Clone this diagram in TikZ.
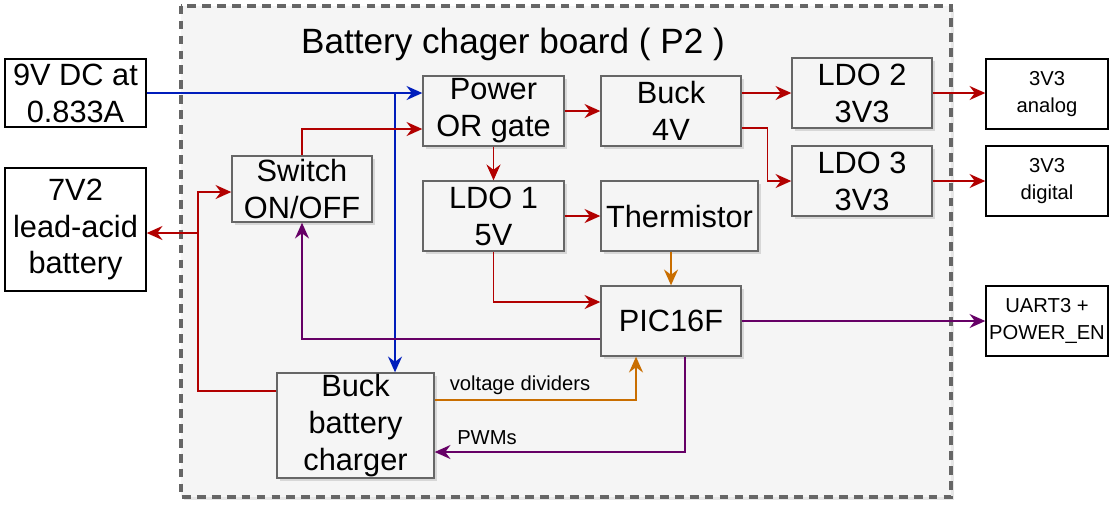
\documentclass[tikz,border=0pt]{standalone}
\usepackage{fontspec}
\setmainfont{Liberation Sans}
\usetikzlibrary{arrows.meta,calc,shadows}
\definecolor{wred}{HTML}{B20000}
\definecolor{wblue}{HTML}{001DBC}
\definecolor{worange}{HTML}{C96E00}
\definecolor{wpurple}{HTML}{660066}
\definecolor{boxgray}{HTML}{666666}
\definecolor{boxfill}{HTML}{F5F5F5}
\begin{document}
\begin{tikzpicture}
	[x=0.02cm,y=-0.02cm,
	big/.style={font=\fontsize{17.5}{21}\selectfont},
	small/.style={font=\fontsize{11.5}{15}\selectfont},
	blk/.style={draw=boxgray,fill=boxfill,line width=0.8pt,align=center,inner sep=0pt,big,
		drop shadow={shadow xshift=1.5pt,shadow yshift=-1.5pt,opacity=0.25}},
	ext/.style={draw=black,fill=white,line width=0.8pt,align=center,inner sep=0pt},
	wire/.style={line width=0.75pt,-{Stealth[length=9pt,width=8pt,inset=3pt]}},
	bare/.style={line width=0.75pt}]
	\useasboundingbox (0,0) rectangle (1114,505);
	\node[fill=boxfill,minimum width=15.4cm,minimum height=9.82cm,inner sep=0pt,
		drop shadow={shadow xshift=1.5pt,shadow yshift=-1.5pt,opacity=0.2}] (board) at (566,251.5) {};
	\draw[boxgray,line width=2.2pt,dash pattern=on 5pt off 3.5pt] (board.north west) rectangle (board.south east);
	\node[font=\fontsize{20}{24}\selectfont] (title) at (513,44) {Battery chager board ( P2 )};
	\node[ext,big,minimum width=2.82cm,minimum height=1.36cm] (dc) at (75.5,93) {9V DC at\\0.833A};
	\node[ext,big,minimum width=2.82cm,minimum height=2.46cm] (batt) at (75.5,229.5) {7V2\\lead-acid\\battery};
	\node[blk,minimum width=2.8cm,minimum height=1.32cm] (sw) at (302,189) {Switch\\ON/OFF};
	\node[blk,minimum width=2.82cm,minimum height=1.4cm] (orgate) at (493.5,111) {Power\\OR gate};
	\node[blk,minimum width=2.8cm,minimum height=1.4cm] (buck) at (671,111) {Buck\\4V};
	\node[blk,minimum width=2.82cm,minimum height=1.4cm] (ldoa) at (493.5,216) {LDO 1\\5V};
	\node[blk,minimum width=3.14cm,minimum height=1.4cm] (therm) at (679.5,216) {Thermistor};
	\node[blk,minimum width=2.8cm,minimum height=1.4cm] (ldob) at (862,93) {LDO 2\\3V3};
	\node[blk,minimum width=2.8cm,minimum height=1.4cm] (ldoc) at (862,181) {LDO 3\\3V3};
	\node[blk,minimum width=2.8cm,minimum height=1.4cm] (pic) at (671,321) {PIC16F};
	\node[blk,minimum width=3.14cm,minimum height=2.1cm] (chg) at (355.5,425.5) {Buck\\battery\\charger};
	\node[ext,small,minimum width=2.44cm,minimum height=1.4cm] (ana) at (1047,94) {3V3\\analog};
	\node[ext,small,minimum width=2.44cm,minimum height=1.4cm] (dig) at (1047,181) {3V3\\digital};
	\node[ext,small,minimum width=2.44cm,minimum height=1.4cm] (uart) at (1047,321) {UART3 +\\POWER\_EN};
	\coordinate (jb) at (395,93);
	\coordinate (jr) at (198,233);
	\draw[wire,wblue] (dc.east) -- (dc.east -| orgate.west);
	\draw[wire,wblue] (jb) -- (jb |- chg.north);
	\draw[wire,wred] (sw.north) |- ($(orgate.west)+(0,18)$);
	\draw[wire,wred] (orgate.east) -- (buck.west);
	\draw[wire,wred] ($(buck.east)+(0,-18)$) -- (ldob.west);
	\draw[wire,wred] ($(buck.east)+(0,17)$) -- ++(26,0) |- (ldoc.west);
	\draw[wire,wred] (orgate.south) -- (ldoa.north);
	\draw[wire,wred] (ldoa.east) -- (therm.west);
	\draw[wire,wred] (ldoa.south) |- ($(pic.west)+(0,-19)$);
	\draw[wire,wred] (ldob.east) -- (ldob.east -| ana.west);
	\draw[wire,wred] (ldoc.east) -- (dig.west);
	\draw[bare,wred] ($(chg.west)+(0,-34.5)$) -| (jr);
	\draw[wire,wred] (jr) |- ($(sw.west)+(0,3)$);
	\draw[wire,wred] (jr) -- (jr -| batt.east);
	\draw[wire,worange] (therm.south -| pic.north) -- (pic.north);
	\draw[wire,worange] ($(chg.east)+(0,-25.5)$) -| ($(pic.south)+(-35,0)$);
	\draw[wire,wpurple] (pic.east) -- (uart.west);
	\draw[wire,wpurple] ($(pic.west)+(0,18)$) -| (sw.south);
	\draw[wire,wpurple] ($(pic.south)+(14,0)$) |- ($(chg.east)+(0,26.5)$);
	\node[small] (vdiv) at (520,385) {voltage dividers};
	\node[small] (pwm) at (487,438) {PWMs};
\end{tikzpicture}
\end{document}
